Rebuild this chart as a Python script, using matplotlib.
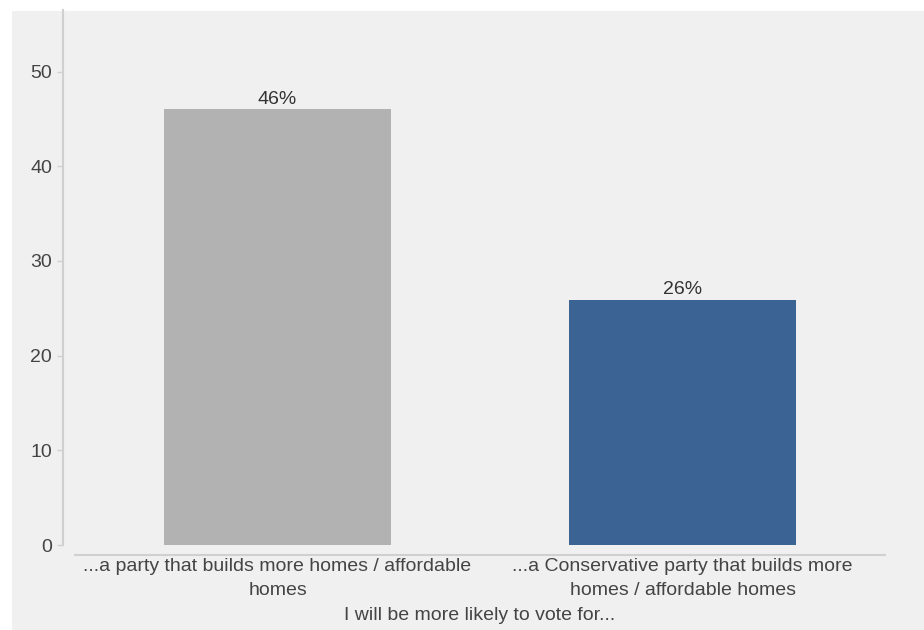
import matplotlib.pyplot as plt
from matplotlib.patches import Rectangle

categories = ['...a party that builds more homes / affordable\nhomes',
              '...a Conservative party that builds more\nhomes / affordable homes']
values = [46, 25.9]
labels = ['46%', '26%']
colors = ['#b2b2b2', '#3b6495']
x_title = 'I will be more likely to vote for...'

plt.rcParams['font.family'] = ['Liberation Sans', 'DejaVu Sans']


def main():
    fig = plt.figure(figsize=(9.24, 6.3), dpi=100)
    fig.patch.set_facecolor('white')
    bg = Rectangle((12 / 924, 0), 1, 1 - 11 / 630,
                   transform=fig.transFigure,
                   facecolor='#f0f0f0', edgecolor='none', zorder=-10)
    fig.add_artist(bg)
    ax = fig.add_axes([75 / 924, 85 / 630, 810 / 924, 535 / 630])
    ax.patch.set_alpha(0)

    x = list(range(len(categories)))
    ax.bar(x, values, width=0.56, color=colors)
    for xi, v, lab in zip(x, values, labels):
        ax.text(xi, v + 0.2, lab, ha='center', va='bottom',
                fontsize=14, color='#333333')

    ax.set_xlim(-0.5, 1.5)
    ax.set_ylim(0, 56.5)
    ax.set_yticks([0, 10, 20, 30, 40, 50])
    ax.set_xticks(x)
    ax.set_xticklabels([''] * len(x))
    ax.tick_params(axis='y', labelsize=14, labelcolor='#444444',
                   color='#d0d0d0', length=4, width=1)
    ax.tick_params(axis='x', length=0)

    # category labels, drawn by hand to get the wider line spacing
    for xi, cat in zip(x, categories):
        ax.annotate(cat, xy=(xi, 0), xycoords=('data', 'axes fraction'),
                    xytext=(0, -9.5), textcoords='offset points',
                    ha='center', va='top', fontsize=14, color='#444444',
                    linespacing=1.5, annotation_clip=False)
    ax.annotate(x_title, xy=(0.5, 0), xycoords='axes fraction',
                xytext=(0, -54), textcoords='offset points',
                ha='center', va='baseline', fontsize=14, color='#444444',
                annotation_clip=False)

    for s in ['top', 'right']:
        ax.spines[s].set_visible(False)
    ax.spines['left'].set_position(('outward', 9))
    ax.spines['bottom'].set_position(('outward', 7.5))
    for s in ['left', 'bottom']:
        ax.spines[s].set_color('#d0d0d0')
        ax.spines[s].set_linewidth(1.5)

    plt.savefig('out.png', dpi=100)


if __name__ == '__main__':
    main()
